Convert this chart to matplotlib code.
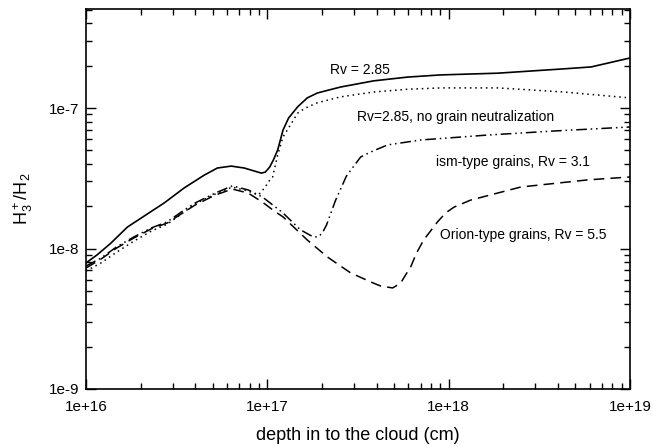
import numpy as np
import matplotlib
matplotlib.use("Agg")
from matplotlib import pyplot as plt
from matplotlib.ticker import LogLocator, NullFormatter, FixedLocator, FixedFormatter

plt.rcParams['font.family'] = ['Liberation Sans', 'DejaVu Sans']

# Rv = 2.85
x_std = [1.0e16, 1.15e16, 1.37e16, 1.69e16, 2.09e16, 2.70e16, 3.48e16, 4.49e16, 5.30e16,
         6.32e16, 7.46e16, 9.27e16, 9.75e16, 1.03e17, 1.08e17, 1.14e17, 1.18e17, 1.22e17,
         1.31e17, 1.47e17, 1.66e17, 1.89e17, 2.53e17, 3.85e17, 5.93e17, 9.04e17, 1.87e18,
         4.32e18, 6.10e18, 1.0e19]
y_std = [7.89e-9, 9.0e-9, 1.09e-8, 1.42e-8, 1.70e-8, 2.11e-8, 2.70e-8, 3.33e-8, 3.74e-8,
         3.86e-8, 3.74e-8, 3.44e-8, 3.50e-8, 3.80e-8, 4.27e-8, 5.02e-8, 5.92e-8, 6.96e-8,
         8.49e-8, 1.02e-7, 1.18e-7, 1.28e-7, 1.41e-7, 1.56e-7, 1.66e-7, 1.72e-7, 1.77e-7,
         1.90e-7, 1.96e-7, 2.27e-7]

# Rv = 2.85, no grain neutralization
x_nog = [1.0e16, 1.21e16, 1.48e16, 1.84e16, 2.29e16, 2.81e16, 3.48e16, 4.00e16, 5.16e16,
         6.41e16, 7.85e16, 8.91e16, 9.75e16, 1.01e17, 1.07e17, 1.14e17, 1.22e17, 1.34e17,
         1.47e17, 1.62e17, 1.89e17, 2.53e17, 3.85e17, 5.93e17, 9.04e17, 1.87e18, 4.32e18, 1.0e19]
y_nog = [6.92e-9, 7.89e-9, 9.44e-9, 1.13e-8, 1.33e-8, 1.49e-8, 1.82e-8, 2.08e-8, 2.44e-8,
         2.74e-8, 2.56e-8, 2.40e-8, 2.74e-8, 2.97e-8, 3.23e-8, 4.62e-8, 6.22e-8, 7.57e-8,
         9.20e-8, 1.00e-7, 1.09e-7, 1.20e-7, 1.30e-7, 1.36e-7, 1.39e-7, 1.39e-7, 1.30e-7, 1.18e-7]

# ism-type grains, Rv = 3.1
x_ism = [1.0e16, 1.21e16, 1.48e16, 1.84e16, 2.29e16, 2.81e16, 3.48e16, 4.00e16, 5.16e16,
         6.41e16, 7.85e16, 9.38e16, 1.11e17, 1.22e17, 1.52e17, 1.79e17, 1.91e17, 2.01e17,
         2.12e17, 2.38e17, 2.73e17, 3.27e17, 3.71e17, 4.60e17, 7.00e17, 1.64e18, 3.80e18, 1.0e19]
y_ism = [7.50e-9, 8.55e-9, 1.03e-8, 1.21e-8, 1.40e-8, 1.55e-8, 1.88e-8, 2.11e-8, 2.48e-8,
         2.79e-8, 2.61e-8, 2.33e-8, 1.97e-8, 1.79e-8, 1.36e-8, 1.21e-8, 1.21e-8, 1.29e-8,
         1.47e-8, 2.21e-8, 3.28e-8, 4.48e-8, 4.86e-8, 5.46e-8, 5.92e-8, 6.42e-8, 6.86e-8, 7.33e-8]

# Orion-type grains, Rv = 5.5
x_ori = [1.0e16, 1.21e16, 1.48e16, 1.84e16, 2.29e16, 2.81e16, 3.48e16, 4.00e16, 5.16e16,
         6.41e16, 7.85e16, 9.38e16, 1.11e17, 1.22e17, 1.66e17, 2.14e17, 2.88e17, 3.85e17,
         4.21e17, 4.91e17, 5.43e17, 5.78e17, 6.17e17, 6.65e17, 7.28e17, 8.69e17, 9.62e17,
         1.07e18, 1.32e18, 2.50e18, 5.86e18, 1.0e19]
y_ori = [7.26e-9, 8.41e-9, 1.01e-8, 1.19e-8, 1.38e-8, 1.52e-8, 1.82e-8, 2.04e-8, 2.40e-8,
         2.65e-8, 2.48e-8, 2.14e-8, 1.82e-8, 1.68e-8, 1.15e-8, 8.72e-9, 6.70e-9, 5.67e-9,
         5.41e-9, 5.24e-9, 5.67e-9, 6.47e-9, 7.38e-9, 9.29e-9, 1.15e-8, 1.55e-8, 1.79e-8,
         1.97e-8, 2.21e-8, 2.74e-8, 3.08e-8, 3.23e-8]

labels = ["Rv = 2.85", "Rv=2.85, no grain neutralization",
          "ism-type grains, Rv = 3.1", "Orion-type grains, Rv = 5.5"]
label_pos = [(2.23e17, 1.86e-7), (3.14e17, 8.63e-8), (8.47e17, 4.13e-8), (8.91e17, 1.25e-8)]

xticks = [1e16, 1e17, 1e18, 1e19]
xticklabels = ["1e+16", "1e+17", "1e+18", "1e+19"]
yticks = [1e-9, 1e-8, 1e-7]
yticklabels = ["1e-9", "1e-8", "1e-7"]

fig = plt.figure(figsize=(6.53, 4.48), dpi=100)
ax = fig.add_axes([0.1317, 0.1317, 0.8331, 0.8483])

ax.plot(x_std, y_std, color='black', lw=1.2, ls='-')
ax.plot(x_nog, y_nog, color='black', lw=1.1, ls=(0, (1, 2.5)))
ax.plot(x_ism, y_ism, color='black', lw=1.1, ls=(0, (7, 2.5, 1, 2.5, 1, 2.5)))
ax.plot(x_ori, y_ori, color='black', lw=1.1, ls=(0, (7, 4)))

for (tx, ty), lab in zip(label_pos, labels):
    ax.text(tx, ty, lab, fontsize=10, ha='left', va='center')

ax.set_xscale('log')
ax.set_yscale('log')
ax.set_xlim(1e16, 1e19)
ax.set_ylim(1e-9, 5.07e-7)

ax.xaxis.set_major_locator(FixedLocator(xticks))
ax.xaxis.set_major_formatter(FixedFormatter(xticklabels))
ax.yaxis.set_major_locator(FixedLocator(yticks))
ax.yaxis.set_major_formatter(FixedFormatter(yticklabels))
ax.xaxis.set_minor_locator(LogLocator(base=10, subs=np.arange(2, 10)))
ax.yaxis.set_minor_locator(LogLocator(base=10, subs=np.arange(2, 10)))
ax.xaxis.set_minor_formatter(NullFormatter())
ax.yaxis.set_minor_formatter(NullFormatter())

ax.tick_params(which='both', direction='in', top=True, right=True, labelsize=11, width=1.0)
ax.tick_params(which='major', length=7)
ax.tick_params(which='minor', length=4)
ax.tick_params(axis='x', which='major', pad=8)
ax.tick_params(axis='y', which='major', pad=5)
for sp in ax.spines.values():
    sp.set_linewidth(1.2)

ax.set_xlabel("depth in to the cloud (cm)", fontsize=13, labelpad=9)
ax.set_ylabel(r"$\mathregular{H_3^+/H_2}$", fontsize=13, labelpad=10)

fig.savefig("out.png", dpi=100)
